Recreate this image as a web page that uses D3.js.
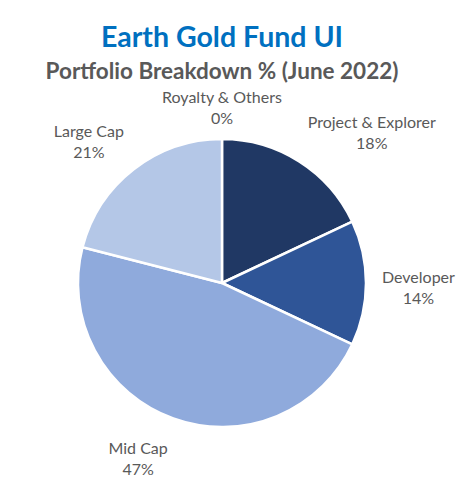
<!DOCTYPE html>
<html>
<head>
<meta charset="utf-8">
<script src="https://cdn.jsdelivr.net/npm/d3@7"></script>
<style>
  body { margin: 0; background: #fff; }
</style>
</head>
<body>
<div id="chart"></div>
<script>
// portfolio split
var categories = ["Project & Explorer", "Developer", "Mid Cap", "Large Cap", "Royalty & Others"];
var values = [18, 14, 47, 21, 0];
var colors = ["#203864", "#2f5597", "#8faadc", "#b4c7e7", "#d9e2f3"];

var w = 475, h = 491;
var cx = 222, cy = 283, r = 144;

var svg = d3.select("#chart").append("svg")
    .attr("width", w)
    .attr("height", h)
    .style("font-family", "Lato, 'Open Sans', sans-serif");

svg.append("text")
    .attr("x", 222).attr("y", 47)
    .attr("text-anchor", "middle")
    .attr("fill", "#0070c0")
    .style("font-weight", "bold")
    .style("font-size", "28.5px")
    .text("Earth Gold Fund UI");

svg.append("text")
    .attr("x", 222).attr("y", 79)
    .attr("text-anchor", "middle")
    .attr("fill", "#595959")
    .style("font-weight", "bold")
    .style("font-size", "22.5px")
    .text("Portfolio Breakdown % (June 2022)");

var total = d3.sum(values);
var data = categories.map(function (c, i) { return {name: c, value: values[i], color: colors[i]}; });

var pie = d3.pie().sort(null).value(function (d) { return d.value; });
var arc = d3.arc().innerRadius(0).outerRadius(r);
var arcs = pie(data);

var g = svg.append("g").attr("transform", "translate(" + cx + "," + cy + ")");

g.selectAll("path")
    .data(arcs.filter(function (d) { return d.data.value > 0; }))
    .enter().append("path")
    .attr("d", arc)
    .attr("fill", function (d) { return d.data.color; })
    .attr("stroke", "#fff")
    .attr("stroke-width", 2.5)
    .attr("stroke-linejoin", "round");

// labels sit just outside the slice, pushed away from the pie like excel does
var labelR = r + 16;
var lineH = 21;

arcs.forEach(function (d) {
    var a = (d.startAngle + d.endAngle) / 2;
    var p = d3.pointRadial(a, labelR);
    var t = g.append("text")
        .attr("text-anchor", "middle")
        .attr("fill", "#595959")
        .style("font-size", "16px");
    t.append("tspan").attr("x", 0).attr("dy", 0).text(d.data.name);
    t.append("tspan").attr("x", 0).attr("dy", lineH).text(Math.round(d.data.value / total * 100) + "%");

    var bb = t.node().getBBox();
    var s = Math.sin(a), c = Math.cos(a);
    var sx = Math.abs(s) < 0.05 ? 0 : Math.sign(s);
    var sy = Math.abs(c) < 0.05 ? 0 : -Math.sign(c);
    var bx = p[0] + sx * bb.width / 2;
    var by = p[1] + sy * bb.height / 2 + 4;
    // shift so the text block is centred on (bx, by)
    var dx = bx - (bb.x + bb.width / 2);
    var dy = by - (bb.y + bb.height / 2);
    t.attr("transform", "translate(" + dx + "," + dy + ")");
});
</script>
</body>
</html>
